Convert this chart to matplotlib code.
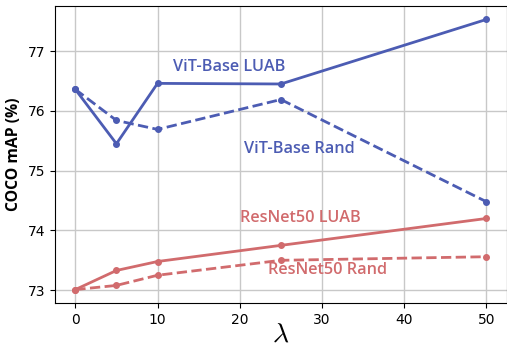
import matplotlib
matplotlib.use('Agg')
import matplotlib.pyplot as plt

lam = [0, 5, 10, 25, 50]
vit_luab = [76.36, 75.45, 76.46, 76.45, 77.53]
vit_rand = [76.36, 75.84, 75.69, 76.19, 74.48]
rn_luab = [73.01, 73.33, 73.48, 73.75, 74.20]
rn_rand = [73.01, 73.08, 73.25, 73.50, 73.56]

BLUE = '#4c5cb3'
RED = '#d16b6d'

plt.rcParams['mathtext.fontset'] = 'cm'

fig = plt.figure(figsize=(5.07, 3.48), dpi=100)
ax = fig.add_axes([0.108, 0.129, 0.892, 0.854])

ax.plot(lam, vit_luab, '-o', color=BLUE, lw=2, ms=4)
ax.plot(lam, vit_rand, '--o', color=BLUE, lw=2, ms=4)
ax.plot(lam, rn_luab, '-o', color=RED, lw=2, ms=4)
ax.plot(lam, rn_rand, '--o', color=RED, lw=2, ms=4)

tf = dict(family='Open Sans', fontsize=11.7, fontweight='semibold', ha='center', va='center')
ax.text(18.7, 76.73, 'ViT-Base LUAB', color=BLUE, **tf)
ax.text(27.2, 75.37, 'ViT-Base Rand', color=BLUE, **tf)
ax.text(27.4, 74.21, 'ResNet50 LUAB', color=RED, **tf)
ax.text(30.7, 73.34, 'ResNet50 Rand', color=RED, **tf)

ax.grid(True, color='#c8c8c8', lw=1)
ax.set_axisbelow(True)
ax.set_yticks([73, 74, 75, 76, 77])
ax.set_ylabel('COCO mAP (%)', family='Open Sans', fontweight='bold', fontsize=11.3)
ax.set_xlabel(r'$\lambda$', fontsize=20, labelpad=-5)

fig.savefig('out.png')
